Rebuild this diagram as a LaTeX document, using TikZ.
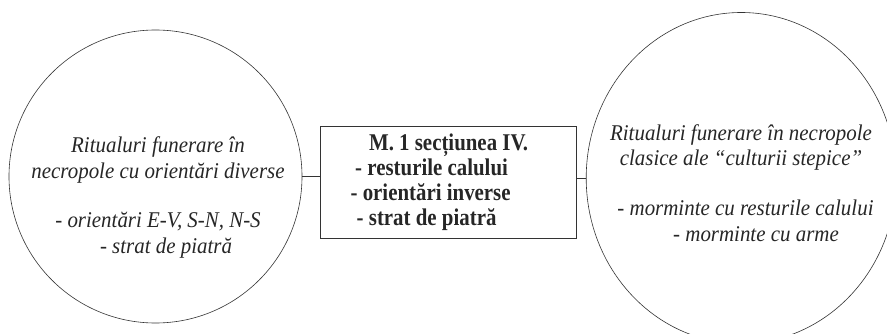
\documentclass[tikz,border=0pt]{standalone}
\usepackage{fontspec}
\setmainfont{Liberation Serif}
\newfontfamily\circfont[FakeStretch=0.93]{Liberation Serif}
\newfontfamily\sectfont[FakeStretch=0.87]{Liberation Serif}
\usetikzlibrary{shapes.geometric, positioning}

\begin{document}
\begin{tikzpicture}[x=1pt, y=-1pt,
    circ/.style={circle, draw=black!80, line width=0.6pt, minimum size=293pt, inner sep=0pt},
    oval/.style={ellipse, draw=black!80, line width=0.6pt, minimum width=310pt, minimum height=331pt, inner sep=0pt},
    block/.style={rectangle, draw=black!80, line width=0.6pt, minimum width=256pt, minimum height=112pt, align=center, text=black!85, font=\sectfont\fontsize{24}{25}\selectfont\bfseries},
    txt/.style={align=center, anchor=base, inner sep=0pt, text=black!85, font=\circfont\fontsize{22.5}{26}\selectfont\itshape},
    line/.style={draw=black!80, line width=0.6pt}]

    \clip (0,0) rectangle (887,334);
    \node [circ] (lcirc) at (155.5,176.5) {};
    \node [block, right=18pt of lcirc, yshift=-5.5pt] (sect) {M. 1 secțiunea IV.\\ \hspace*{-34pt}- resturile calului\\ \hspace*{-36pt}- orientări inverse\\ \hspace*{-44pt}- strat de piatră};
    \node [oval, right=9pt of sect, yshift=4pt] (rcirc) {};

    % base anchor sits on the last line
    \node [txt] (ltext) at (158,253) {Ritualuri funerare în\\ necropole cu orientări diverse\\[23pt] - orientări E-V, S-N, N-S\\ \hspace*{16pt}- strat de piatră};
    \node [txt, font=\circfont\fontsize{22.5}{25.5}\selectfont\itshape] (rtext) at (741,241) {Ritualuri funerare în necropole\\ clasice ale “culturii stepice”\\[24.5pt] \hspace*{9pt}\textup{-} morminte cu resturile calului\\ \hspace*{30pt}\textup{-} morminte cu arme};

    \path [line] (lcirc.east) -- (lcirc.east -| sect.west);
    \path [line] (sect.east |- rcirc.west) -- (rcirc.west);
\end{tikzpicture}
\end{document}
